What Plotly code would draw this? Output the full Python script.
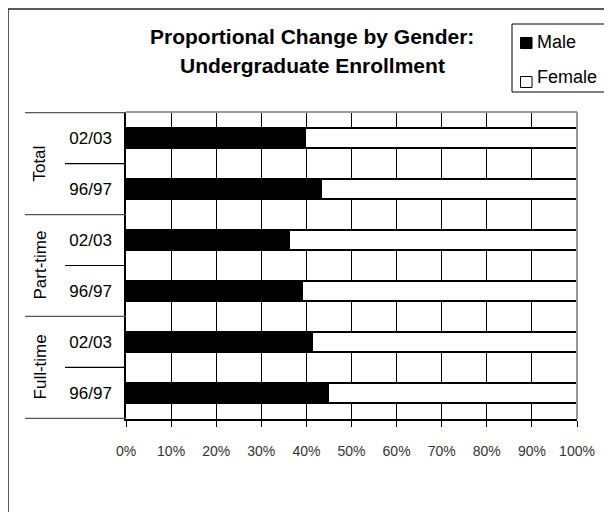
import plotly.graph_objects as go

# ---- data ----
groups = ["Full-time", "Full-time", "Part-time", "Part-time", "Total", "Total"]
years = ["96/97", "02/03", "96/97", "02/03", "96/97", "02/03"]
male_pct = [44.9, 41.2, 39.1, 36.1, 43.4, 39.8]
female_pct = [55.1, 58.8, 60.9, 63.9, 56.6, 60.2]
series_names = ["Male", "Female"]
x_ticks = [0, 10, 20, 30, 40, 50, 60, 70, 80, 90, 100]
x_tick_labels = [f"{v}%" for v in x_ticks]
title_lines = ["Proportional Change by Gender:", "Undergraduate Enrollment"]

cats = [f"{g} {y}" for g, y in zip(groups, years)]

# ---- layout geometry (reference pixels; page body has an 8px margin) ----
OFF = 8
FW, FH = 612 - OFF, 512 - OFF
L, R, T, B = 126, 577, 112, 419
W, H = R - L, B - T


def px(x):
    return (x - L) / W


def py(y):
    return (B - y) / H


FONT = "Liberation Sans, Arial, sans-serif"

fig = go.Figure()
fig.add_trace(go.Bar(
    x=male_pct, y=cats, orientation="h", name=series_names[0],
    marker=dict(color="black", line=dict(color="black", width=1.5)),
    showlegend=False,
))
fig.add_trace(go.Bar(
    x=female_pct, y=cats, orientation="h", name=series_names[1],
    marker=dict(color="white", line=dict(color="black", width=1.5)),
    showlegend=False,
))

shapes = []
annotations = []

# plot frame top / right (gray)
shapes.append(dict(type="line", xref="paper", yref="paper", x0=0, x1=1, y0=1, y1=1,
                   line=dict(color="#9a9a9a", width=2)))
shapes.append(dict(type="line", xref="paper", yref="paper", x0=1, x1=1, y0=0, y1=1,
                   line=dict(color="#9a9a9a", width=2)))

# category dividers on the left
n = len(cats)
group_bounds = [-0.5]
for i in range(1, n):
    if groups[i] != groups[i - 1]:
        group_bounds.append(i - 0.5)
group_bounds.append(n - 0.5)
for b in group_bounds:
    shapes.append(dict(type="line", xref="paper", yref="y", x0=px(25), x1=0, y0=b, y1=b,
                       line=dict(color="#555555", width=1.2)))
for i in range(1, n):
    if groups[i] == groups[i - 1]:
        shapes.append(dict(type="line", xref="paper", yref="y", x0=px(65), x1=0,
                           y0=i - 0.5, y1=i - 0.5, line=dict(color="black", width=1.2)))

# group labels (rotated)
for k in range(len(group_bounds) - 1):
    lo, hi = group_bounds[k], group_bounds[k + 1]
    idx = int(lo + 0.5)
    annotations.append(dict(
        text=groups[idx], xref="paper", yref="y", x=px(40), y=(lo + hi) / 2,
        textangle=-90, showarrow=False, xanchor="center", yanchor="middle",
        font=dict(family=FONT, size=17, color="black"),
    ))

# outer chart border (left + top)
shapes.append(dict(type="line", xref="paper", yref="paper", x0=px(8), x1=px(8),
                   y0=py(9), y1=py(540), line=dict(color="#222222", width=1.5)))
shapes.append(dict(type="line", xref="paper", yref="paper", x0=px(8), x1=px(650),
                   y0=py(9), y1=py(9), line=dict(color="#222222", width=1.5)))

# title
for line, yy in zip(title_lines, [37, 66]):
    annotations.append(dict(
        text=f"<b>{line}</b>", xref="paper", yref="paper", x=px(312), y=py(yy),
        showarrow=False, xanchor="center", yanchor="middle",
        font=dict(family=FONT, size=21, color="black"),
    ))

# legend box
shapes.append(dict(type="rect", xref="paper", yref="paper", x0=px(512), x1=px(650),
                   y0=py(24), y1=py(92), line=dict(color="black", width=1), fillcolor="white"))
legend_fill = ["black", "white"]
legend_y = [42, 77]
sq_y = [43, 82]
for name, fc, ty, sy in zip(series_names, legend_fill, legend_y, sq_y):
    shapes.append(dict(type="rect", xref="paper", yref="paper",
                       x0=px(520.5), x1=px(532), y0=py(sy - 5.5), y1=py(sy + 5.5),
                       line=dict(color="black", width=1), fillcolor=fc))
    annotations.append(dict(
        text=name, xref="paper", yref="paper", x=px(535), y=py(ty),
        showarrow=False, xanchor="left", yanchor="middle",
        font=dict(family=FONT, size=18, color="black"),
    ))

fig.update_layout(
    width=FW, height=FH,
    margin=dict(l=L - OFF, r=612 - R, t=T - OFF, b=512 - B, pad=0),
    paper_bgcolor="white", plot_bgcolor="white",
    barmode="stack", bargap=0.61,
    showlegend=False,
    shapes=shapes, annotations=annotations,
    xaxis=dict(
        range=[0, 100], tickvals=x_ticks, ticktext=x_tick_labels,
        showgrid=True, gridcolor="black", gridwidth=1, zeroline=False,
        showline=True, linecolor="black", linewidth=1.5,
        ticks="outside", ticklen=6, tickcolor="black", tickwidth=1,
        ticklabelstandoff=12,
        tickfont=dict(family=FONT, size=14, color="#333333"),
        fixedrange=True,
    ),
    yaxis=dict(
        type="category", categoryorder="array", categoryarray=cats,
        tickvals=cats, ticktext=years, showgrid=False, zeroline=False,
        showline=True, linecolor="black", linewidth=1.5, ticks="",
        ticklabelstandoff=9,
        tickfont=dict(family=FONT, size=17, color="black"),
        fixedrange=True,
    ),
)

fig.write_html("out.html")
